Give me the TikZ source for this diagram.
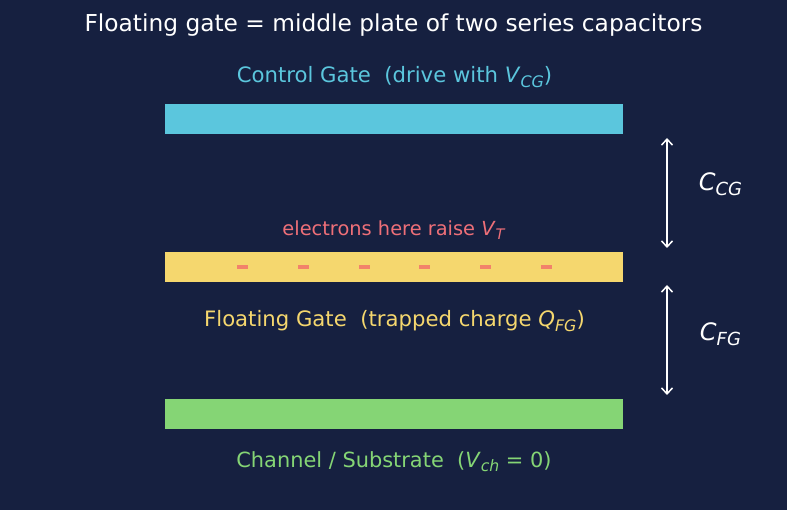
\documentclass[tikz,border=0pt]{standalone}
\usepackage{fontspec}
\usepackage{graphicx}
\setmainfont{DejaVu Sans}
\usetikzlibrary{arrows.meta}
\definecolor{bg}{HTML}{162040}
\definecolor{cgc}{HTML}{5BC6DD}
\definecolor{fgc}{HTML}{F5D76E}
\definecolor{chc}{HTML}{85D575}
\definecolor{elc}{HTML}{EE6F78}
\definecolor{dashc}{HTML}{F2826A}
\newcommand\mvar[2]{\textit{#1}\raisebox{-0.2em}{\scalebox{0.75}{\textit{#2}}}}
\tikzset{
  plate/.style={draw=none, minimum width=458pt, minimum height=30pt, inner sep=0pt},
  lbl/.style={inner sep=0pt, font=\fontsize{21.2}{25}\selectfont},
  caplbl/.style={inner sep=0pt, text=white, font=\fontsize{24}{28}\selectfont},
  dimarrow/.style={draw=white, line width=1.5pt, {Straight Barb[length=6pt,width=11pt]}-{Straight Barb[length=6pt,width=11pt]}},
  electron/.style={fill=dashc, draw=none, minimum width=11pt, minimum height=4pt, inner sep=0pt}
}
\begin{document}
\begin{tikzpicture}[x=1pt,y=-1pt]
\fill[bg] (0,0) rectangle (787,510);
\useasboundingbox (0,0) rectangle (787,510);
\node[inner sep=0pt, text=white, font=\fontsize{23.3}{27}\selectfont] (title) at (393.5,25.5) {Floating gate = middle plate of two series capacitors};
\node[lbl, text=cgc] (cglbl) at (394.5,77) {Control Gate\ \ (drive with \mvar{V}{CG})};
\node[plate, fill=cgc] (cg) at (394,119) {};
\node[lbl, text=elc, font=\fontsize{19.4}{23}\selectfont] (ellbl) at (394,230) {electrons here raise \mvar{V}{T}};
\node[plate, fill=fgc] (fg) at (394,267) {};
\foreach \i/\x in {1/242,2/303,3/364,4/424,5/485,6/546}
  \node[electron] (e\i) at (\x,267) {};
\node[lbl, text=fgc] (fglbl) at (394.5,321) {Floating Gate\ \ (trapped charge \mvar{Q}{FG})};
\node[plate, fill=chc] (ch) at (394,414) {};
\node[lbl, text=chc, font=\fontsize{20.9}{25}\selectfont] (chlbl) at (394,462) {Channel / Substrate\ \ (\mvar{V}{ch} = 0)};
\coordinate (a1) at (667,138);
\coordinate (a2) at (667,248);
\coordinate (b1) at (667,285);
\coordinate (b2) at (667,395);
\draw[dimarrow] (a1) -- (a2);
\draw[dimarrow] (b1) -- (b2);
\node[caplbl] (ccg) at (720.5,184) {\mvar{C}{CG}};
\node[caplbl] (cfg) at (720.5,334) {\mvar{C}{FG}};
\end{tikzpicture}
\end{document}
